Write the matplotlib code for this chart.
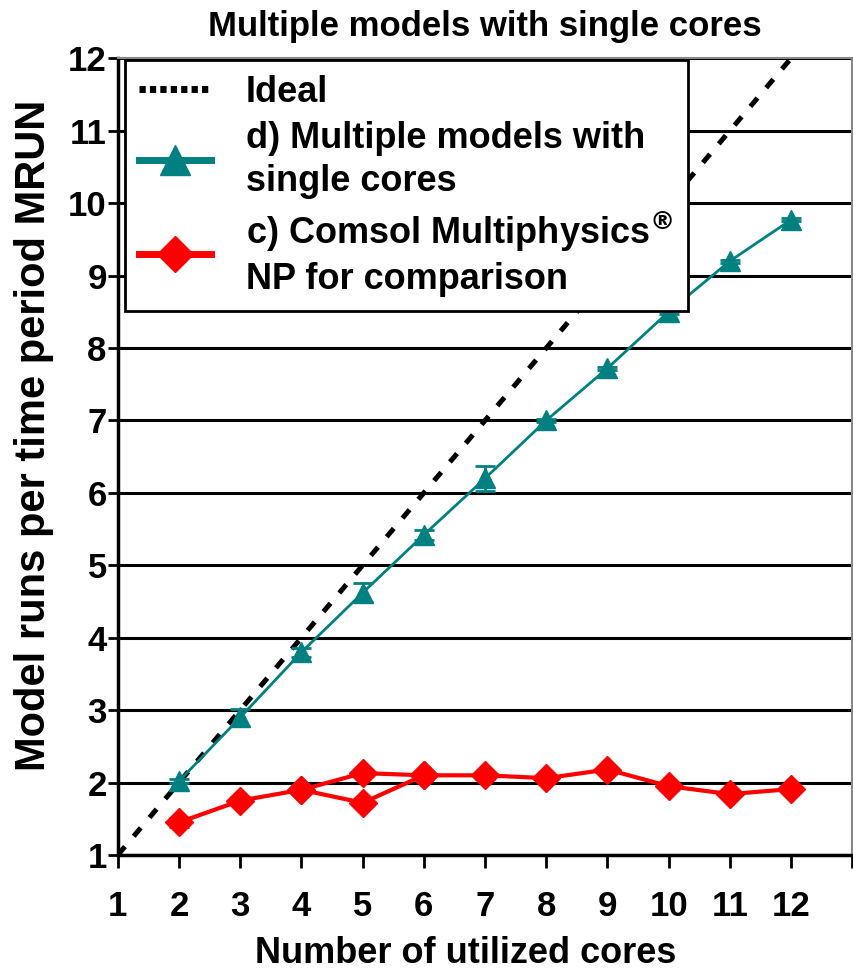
import numpy as np
import matplotlib
matplotlib.use('Agg')
import matplotlib.pyplot as plt
from matplotlib.lines import Line2D

plt.rcParams['font.family'] = ['Liberation Sans', 'DejaVu Sans']
plt.rcParams['font.weight'] = 'bold'
plt.rcParams['mathtext.default'] = 'bf'

# data
ideal_x = [1, 12]
ideal_y = [1, 12]

cores = [2, 3, 4, 5, 6, 7, 8, 9, 10, 11, 12]
multi = [2.02, 2.9, 3.8, 4.62, 5.42, 6.2, 7.0, 7.72, 8.5, 9.2, 9.77]
multi_err = [0.03, 0.12, 0.06, 0.13, 0.07, 0.17, 0.02, 0.02, 0.03, 0.02, 0.02]

comsol = [1.45, 1.75, 1.9, 1.72, 2.1, 2.1, 2.06, 2.18, 1.95, 1.84, 1.91]
comsol_err = [0.06, 0.05, 0.05, 0.03, 0.05, 0.05, 0.03, 0.03, 0.05, 0.03, 0.02]
# second run at 5 cores (connected to 4 and 6)
comsol_alt_x = [4, 5, 6]
comsol_alt_y = [1.9, 2.13, 2.1]

teal = '#008080'
red = '#ff0000'

fig = plt.figure(figsize=(8.54, 9.71), dpi=100)
ax = fig.add_axes([0.138, 0.1195, 0.860, 0.8205])

ax.set_axisbelow(True)
ax.grid(True, axis='y', color='black', linewidth=2.2)

ax.plot(ideal_x, ideal_y, color='black', linestyle=(0, (2.2, 2.7)), linewidth=3.6, zorder=3)

ax.errorbar(cores, multi, yerr=multi_err, fmt='none', ecolor=teal,
            capsize=7, capthick=2, elinewidth=2, zorder=4)
ax.plot(cores, multi, color=teal, linewidth=2, marker='^', markersize=15, zorder=4)

ax.errorbar(cores, comsol, yerr=comsol_err, fmt='none', ecolor=red,
            capsize=7, capthick=2, elinewidth=2, zorder=5)
ax.plot(comsol_alt_x, comsol_alt_y, color=red, linewidth=3, marker='D', markersize=14, zorder=5)
ax.plot(cores, comsol, color=red, linewidth=3, marker='D', markersize=14, zorder=5)

ax.set_xlim(1, 13)
ax.set_ylim(1, 12)
ax.set_xticks(np.arange(1, 14))
ax.set_xticklabels([str(i) for i in range(1, 13)] + [''])
ax.set_yticks(np.arange(1, 13))
ax.tick_params(axis='x', direction='out', length=9, width=2, labelsize=25, pad=16)
ax.tick_params(axis='y', direction='inout', length=14, width=2, labelsize=25, pad=1)

for side in ['left', 'bottom']:
    ax.spines[side].set_linewidth(2.5)
for side in ['top', 'right']:
    ax.spines[side].set_color('#888888')
    ax.spines[side].set_linewidth(1.5)

ax.set_title('Multiple models with single cores', fontsize=25, fontweight='bold', pad=16)
ax.set_xlabel('Number of utilized cores', fontsize=26, fontweight='bold')
ax.xaxis.set_label_coords(0.473, -0.102)
ax.set_ylabel('Model runs per time period MRUN', fontsize=30, fontweight='bold')
ax.yaxis.set_label_coords(-0.087, 0.527)

handles = [
    Line2D([], [], color='black', linestyle=(0, (0.9, 0.6)), linewidth=5),
    Line2D([], [], color=teal, linewidth=5, marker='^', markersize=22),
    Line2D([], [], color=red, linewidth=5, marker='D', markersize=18),
]
labels = ['Ideal', 'd) Multiple models with\nsingle cores',
          'c) Comsol Multiphysics$^{\\circledR}$\nNP for comparison']
leg = ax.legend(handles, labels, loc='upper left', bbox_to_anchor=(0.0095, 0.9975),
                fontsize=26, frameon=True, fancybox=False, edgecolor='black', framealpha=1,
                handlelength=2.0, borderpad=0.4, labelspacing=0.3, handletextpad=0.95,
                borderaxespad=0)
for t in leg.get_texts():
    t.set_linespacing(1.3)
leg.get_frame().set_linewidth(2)
leg.set_zorder(10)

plt.savefig('out.png', dpi=100)
